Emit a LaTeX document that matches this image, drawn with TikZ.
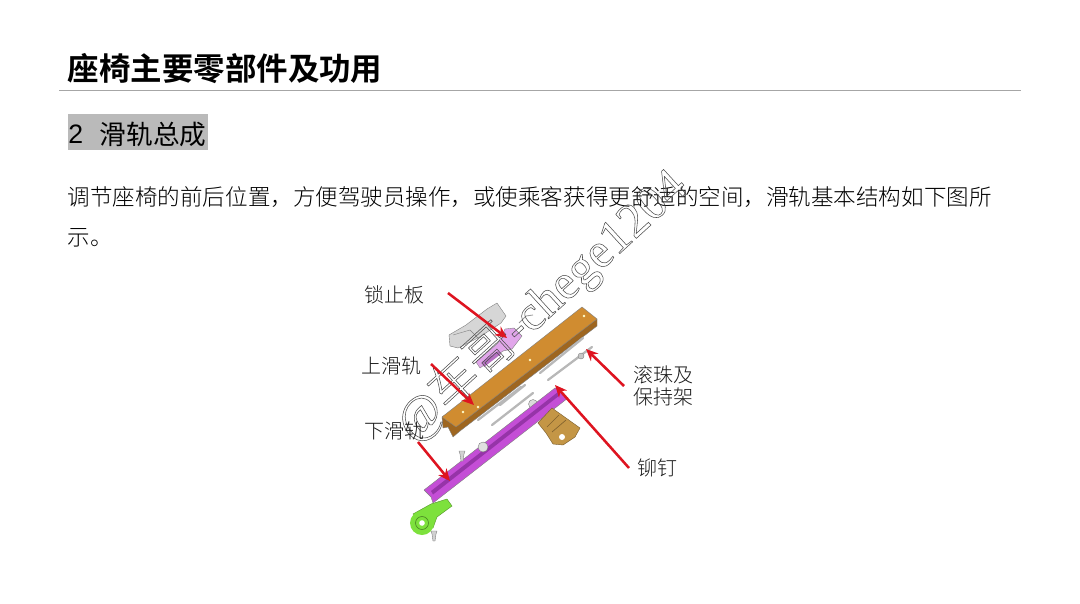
\documentclass[tikz,border=0pt]{standalone}
\usepackage{fontspec}
\setmainfont{Liberation Serif}
\newfontfamily\cjk{Noto Sans CJK SC}
\newfontfamily\cjkb{Noto Sans CJK SC Bold}
\newfontfamily\cjkl{Noto Sans CJK SC Light}
\newfontfamily\arialf{Liberation Sans}
\definecolor{arrowred}{RGB}{222,20,32}
\definecolor{railor}{RGB}{208,140,48}
\definecolor{railordk}{RGB}{158,102,32}
\definecolor{railpu}{RGB}{196,78,214}
\definecolor{railpudk}{RGB}{150,52,168}
\definecolor{railgr}{RGB}{125,225,60}
\definecolor{railbr}{RGB}{196,150,70}
\tikzset{
 lbl/.style={inner sep=0pt,anchor=center,font=\cjkl\fontsize{15}{15}\selectfont,text=black!90,align=center},
 redarrow/.style={draw=arrowred,line width=1.9pt,-{Stealth[length=9pt,width=8pt]}},
 rod/.style={draw=black!28,line width=1.7pt,line cap=round},
 partline/.style={draw=black!50,line width=.3pt,line join=round},
 wm/.style={inner sep=0pt,rotate=42.5,anchor=center,text=black!70}
}
\usetikzlibrary{arrows.meta}
\begin{document}
\begin{tikzpicture}[x=.75pt,y=-.75pt]
\useasboundingbox (0,0) rectangle (1080,603);
\fill[white] (0,0) rectangle (1080,603);
% heading
\node[inner sep=0pt,anchor=west,font=\cjkb\fontsize{23.6}{24}\selectfont] (title) at (67.5,69) {座椅主要零部件及功用};
\coordinate (ruleL) at (59,90.5);
\coordinate (ruleR) at (1021,90.5);
\draw[black!35,line width=.6pt] (ruleL) -- (ruleR);
\fill[black!27] (68,114) rectangle (208,150);
\node[inner sep=0pt,anchor=west,font=\arialf\fontsize{20}{20}\selectfont] (num) at (68,134) {2};
\node[inner sep=0pt,anchor=west,font=\cjk\fontsize{20}{20}\selectfont] (sub) at (99.5,134) {滑轨总成};
\node[inner sep=0pt,anchor=west,font=\cjkl\fontsize{16.9}{17}\selectfont] (l1) at (67.5,197) {调节座椅的前后位置，方便驾驶员操作，或使乘客获得更舒适的空间，滑轨基本结构如下图所};
\node[inner sep=0pt,anchor=west,font=\cjkl\fontsize{16.9}{17}\selectfont] (l2) at (67.5,238) {示。};
% lock plate
\filldraw[fill=black!16,partline] (450,346) -- (449,335) -- (466,325) -- (487,309) -- (497,303) -- (506,316) -- (501,323) -- (478,338) -- (458,348) -- cycle;
\draw[partline] (453,335) -- (470,330) -- (478,338);
\draw[black!40,line width=.6pt] (519,323) -- (526,316) -- (533,315);
\filldraw[fill=railpu!50,partline] (505,329) -- (514,328) -- (522,336) -- (512,349) -- (503,351) -- (480,368) -- (476,362) -- (498,343) -- cycle;
\fill[railpudk!70] (482,362) -- (498,351) -- (501,354) -- (484,367) -- cycle;
% upper rail
\filldraw[fill=railordk,partline] (442,417) -- (443,428) -- (448,427) -- (453,437) -- (460,431) -- (597,326) -- (597,319) -- cycle;
\filldraw[fill=railor,partline] (442,417) -- (582,307) -- (597,319) -- (456,427) -- cycle;
\foreach \p in {(463,412),(478,407),(530,360),(584,316)} \fill[white!80!yellow] \p circle (1.3);
% rods and balls
\draw[rod] (540,373) -- (583,338);
\draw[rod] (500,405) -- (525,385);
\draw[rod] (492,425) -- (533,393);
\draw[rod] (478,420) -- (521,387);
\draw[rod] (548,380) -- (592,347);
\filldraw[fill=black!14,partline] (533,404) circle (4.5);
\filldraw[fill=black!22,partline] (581,356) circle (3);
% lower rail
\filldraw[fill=railpu,partline] (424,490) -- (555,388) -- (568,398) -- (433,503) -- (431,497) -- cycle;
\fill[railpudk] (431,491) -- (558,392) -- (560,395) -- (433,494.5) -- cycle;
\filldraw[fill=black!12,partline] (483,447) circle (5);
\filldraw[fill=black!18,partline] (459,451) -- (465,451) -- (464,454) -- (463,461) -- (461,461) -- (460,454) -- cycle;
\filldraw[fill=black!18,partline] (431,531) -- (437,531) -- (436,534) -- (435,541) -- (433,541) -- (432,534) -- cycle;
% green bracket
\filldraw[fill=railgr,draw=railgr!65!black,line width=.3pt] (413,514) -- (431,504) -- (447,499) -- (452,506) -- (437,517) -- (433,528) -- cycle;
\fill[railgr] (422,523) circle (12);
\draw[railgr!60!black,line width=.5pt] (422,523) circle (6.5);
\fill[white] (422,523) circle (2.8);
% bronze bracket
\filldraw[fill=railbr,draw=railbr!60!black,line width=.3pt] (538,423) -- (552,408) -- (580,428) -- (575,437) -- (563,445) -- (553,444) -- (546,433) -- cycle;
\draw[railbr!65!black,line width=.5pt] (547,427) -- (559,415);
\draw[railbr!65!black,line width=.5pt] (552,432) -- (566,420);
\fill[white] (562,437) circle (3);
% watermark
\node[wm,font=\fontsize{37}{37}\selectfont] (mark) at (541,305) {\special{pdf:code 1 Tr 0.4 w}@{\cjkl 车哥}-chege1204\special{pdf:code 0 Tr}};
% arrows
\coordinate (a1s) at (448,293); \coordinate (a1e) at (507,338);
\coordinate (a2s) at (431,364); \coordinate (a2e) at (474,405);
\coordinate (a3s) at (418,442); \coordinate (a3e) at (450,481);
\coordinate (a4s) at (624,386); \coordinate (a4e) at (586,349);
\coordinate (a5s) at (629,468); \coordinate (a5e) at (555,385);
\draw[redarrow] (a1s) -- (a1e);
\draw[redarrow] (a2s) -- (a2e);
\draw[redarrow] (a3s) -- (a3e);
\draw[redarrow] (a4s) -- (a4e);
\draw[redarrow] (a5s) -- (a5e);
% labels
\node[lbl] (suo) at (394,295) {锁止板};
\node[lbl] (shang) at (391,366) {上滑轨};
\node[lbl] (xia) at (394,431) {下滑轨};
\node[lbl,align=center] (gun) at (663,386) {滚珠及\\[2pt]保持架};
\node[lbl] (mao) at (657,468) {铆钉};
\end{tikzpicture}
\end{document}
